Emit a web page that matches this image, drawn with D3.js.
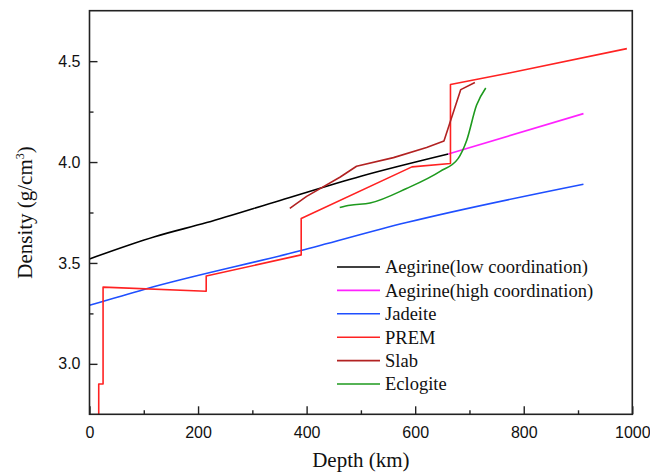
<!DOCTYPE html>
<html>
<head>
<meta charset="utf-8">
<script src="https://cdn.jsdelivr.net/npm/d3@7"></script>
<style>
  body { margin: 0; background: #fff; }
</style>
</head>
<body>
<svg id="chart" width="650" height="474" viewBox="0 0 650 474"></svg>
<script>
// depth (km) / density (g/cm3) pairs
const aegirineLow = [[0, 3.52], [120, 3.63], [216, 3.70], [351, 3.81], [500, 3.93], [661, 4.04]];
const aegirineHigh = [[661, 4.04], [910, 4.24]];
const jadeite = [[0, 3.29], [102, 3.37], [388, 3.56], [584, 3.70], [910, 3.89]];
const prem = [[17, 2.75], [17, 2.90], [25, 2.90], [25, 3.38], [215, 3.36], [215, 3.435],
  [390, 3.54], [390, 3.72], [594, 3.976], [665, 3.993], [665, 4.384], [771, 4.44], [990, 4.562]];
const slab = [[369, 3.77], [400, 3.83], [462, 3.926], [492, 3.979], [560, 4.022], [621, 4.072],
  [653, 4.104], [684, 4.359], [710, 4.394]];
const eclogite = [[461, 3.775], [480, 3.786], [517, 3.797], [584, 3.869], [646, 3.954], [679, 4.017],
  [695, 4.108], [713, 4.281], [730, 4.367]];

const seriesNames = ["Aegirine(low coordination)", "Aegirine(high coordination)", "Jadeite", "PREM", "Slab", "Eclogite"];
const seriesData = [aegirineLow, aegirineHigh, jadeite, prem, slab, eclogite];
const seriesColors = ["#000000", "#ff22ff", "#1f4fff", "#ff2222", "#b22222", "#1e9a1e"];
const smoothSeries = [true, false, true, false, false, true];

const xTicks = [0, 200, 400, 600, 800, 1000];
const yTicks = [3.0, 3.5, 4.0, 4.5];

const svg = d3.select("#chart");
const margin = { top: 10.7, right: 17.7, bottom: 59.7, left: 89.5 };
const width = 650 - margin.left - margin.right;
const height = 474 - margin.top - margin.bottom;

const g = svg.append("g").attr("transform", `translate(${margin.left},${margin.top})`);

const x = d3.scaleLinear().domain([0, 1000]).range([0, width]);
const y = d3.scaleLinear().domain([2.75, 4.75]).range([height, 0]);

g.append("defs").append("clipPath").attr("id", "clip")
  .append("rect").attr("width", width).attr("height", height);

const line = d3.line().x(d => x(d[0])).y(d => y(d[1]));
const smoothLine = d3.line().x(d => x(d[0])).y(d => y(d[1])).curve(d3.curveMonotoneX);

g.append("g").attr("clip-path", "url(#clip)")
  .selectAll("path")
  .data(seriesData)
  .join("path")
  .attr("d", (d, i) => smoothSeries[i] ? smoothLine(d) : line(d))
  .attr("fill", "none")
  .attr("stroke", (d, i) => seriesColors[i])
  .attr("stroke-width", 1.6)
  .attr("stroke-linejoin", "round");

// frame
g.append("rect")
  .attr("width", width)
  .attr("height", height)
  .attr("fill", "none")
  .attr("stroke", "#222")
  .attr("stroke-width", 1.6);

// minor ticks
g.append("g")
  .attr("transform", `translate(0,${height})`)
  .call(d3.axisBottom(x).tickValues(d3.range(100, 1000, 200)).tickSize(-4).tickFormat(""))
  .call(a => a.select(".domain").remove())
  .call(a => a.selectAll("line").attr("stroke", "#222").attr("stroke-width", 1.4));

g.append("g")
  .call(d3.axisLeft(y).tickValues([3.25, 3.75, 4.25]).tickSize(-4).tickFormat(""))
  .call(a => a.select(".domain").remove())
  .call(a => a.selectAll("line").attr("stroke", "#222").attr("stroke-width", 1.4));

// major ticks
g.append("g")
  .attr("transform", `translate(0,${height})`)
  .call(d3.axisBottom(x).tickValues(xTicks).tickSize(-8).tickPadding(12).tickFormat(d3.format("d")))
  .call(a => a.select(".domain").remove())
  .call(a => a.selectAll("line").attr("stroke", "#222").attr("stroke-width", 1.4))
  .call(a => a.selectAll("text").attr("fill", "#111").attr("font-family", "Liberation Sans, Arial, sans-serif").attr("font-size", 16));

g.append("g")
  .call(d3.axisLeft(y).tickValues(yTicks).tickSize(-8).tickPadding(9).tickFormat(d3.format(".1f")))
  .call(a => a.select(".domain").remove())
  .call(a => a.selectAll("line").attr("stroke", "#222").attr("stroke-width", 1.4))
  .call(a => a.selectAll("text").attr("fill", "#111").attr("font-family", "Liberation Sans, Arial, sans-serif").attr("font-size", 16));

// axis titles
svg.append("text")
  .attr("x", margin.left + width / 2)
  .attr("y", 467)
  .attr("text-anchor", "middle")
  .attr("font-family", "Liberation Serif, Times New Roman, serif")
  .attr("font-size", 21)
  .attr("fill", "#111")
  .text("Depth (km)");

const yTitle = svg.append("text")
  .attr("transform", `translate(32,${margin.top + height / 2}) rotate(-90)`)
  .attr("text-anchor", "middle")
  .attr("font-family", "Liberation Serif, Times New Roman, serif")
  .attr("font-size", 21)
  .attr("fill", "#111");
yTitle.append("tspan").text("Density (g/cm");
yTitle.append("tspan").attr("dy", -8).attr("font-size", 12).text("3");
yTitle.append("tspan").attr("dy", 8).text(")");

// legend
const legend = svg.append("g").attr("transform", "translate(337,267)");
const rows = legend.selectAll("g")
  .data(seriesNames)
  .join("g")
  .attr("transform", (d, i) => `translate(0,${i * 23.4})`);

rows.append("line")
  .attr("x2", 43)
  .attr("stroke", (d, i) => seriesColors[i])
  .attr("stroke-width", 1.6);

rows.append("text")
  .attr("x", 48)
  .attr("dy", "0.35em")
  .attr("font-family", "Liberation Serif, Times New Roman, serif")
  .attr("font-size", 18.5)
  .attr("fill", "#111")
  .text(d => d);
</script>
</body>
</html>
